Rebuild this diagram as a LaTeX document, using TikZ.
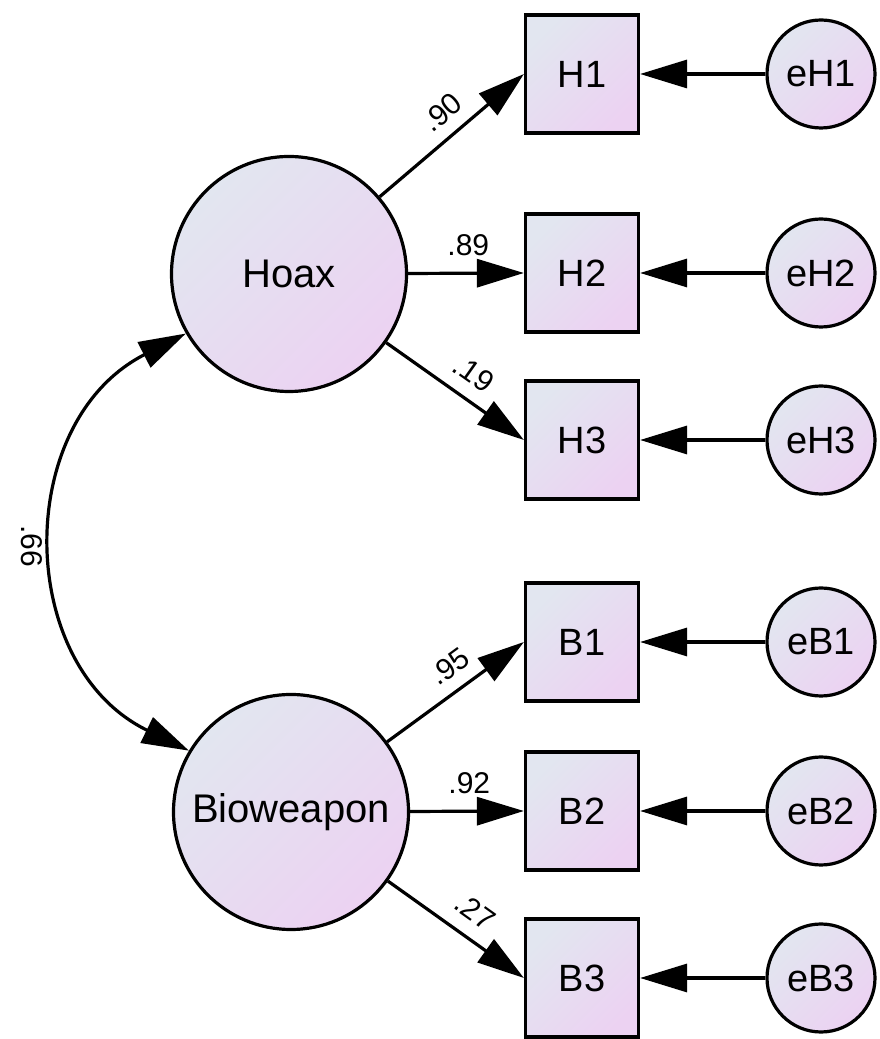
\documentclass[tikz,border=0pt]{standalone}
\usepackage{fontspec}
\setmainfont{Liberation Sans}
\usetikzlibrary{arrows.meta}
\definecolor{shadeA}{RGB}{226,230,240}
\definecolor{shadeB}{RGB}{236,210,242}
\begin{document}
\begin{tikzpicture}[x=1pt,y=1pt,
  base/.style={draw=black, line width=3.2pt, top color=shadeA, bottom color=shadeB, shading angle=45, inner sep=0pt},
  latent/.style={base, circle, minimum size=235pt, font=\fontsize{40}{42}\selectfont},
  observed/.style={base, rectangle, minimum width=113pt, minimum height=118pt, font=\fontsize{38}{40}\selectfont},
  errvar/.style={base, circle, minimum size=108pt, font=\fontsize{38}{40}\selectfont},
  regarrow/.style={line width=3.2pt, -{Triangle[length=47pt,width=28pt]}},
  covarrow/.style={line width=3.2pt, {Triangle[length=47pt,width=28pt]}-{Triangle[length=47pt,width=28pt]}},
  coef/.style={inner sep=0pt, font=\fontsize{30}{32}\selectfont}
]
\useasboundingbox (0,0) rectangle (880,1039);

% latent variables
\node[latent] (hoax) at (289,765) {Hoax};
\node[latent] (bio) at (291,227) {Bioweapon};

% observed indicators
\node[observed] (H1) at (582,965) {H1};
\node[observed] (H2) at (582,766) {H2};
\node[observed] (H3) at (582,599) {H3};
\node[observed] (B1) at (582,397) {B1};
\node[observed] (B2) at (582,228) {B2};
\node[observed] (B3) at (582,61) {B3};

% error terms
\node[errvar] (eH1) at (821,965) {eH1};
\node[errvar] (eH2) at (821,766) {eH2};
\node[errvar] (eH3) at (821,599) {eH3};
\node[errvar] (eB1) at (821,397) {eB1};
\node[errvar] (eB2) at (821,228) {eB2};
\node[errvar] (eB3) at (821,61) {eB3};

% loadings
\draw[regarrow] (hoax) -- node[coef, sloped, pos=0.54, above=12pt] {.90} (H1.west);
\draw[regarrow] (hoax) -- node[coef, pos=0.52, above=16pt] {.89} (H2.west);
\draw[regarrow] (hoax) -- node[coef, sloped, pos=0.53, above=13pt] {.19} (H3.west);
\draw[regarrow] (bio) -- node[coef, sloped, pos=0.56, above=12pt] {.95} (B1.west);
\draw[regarrow] (bio) -- node[coef, pos=0.52, above=16pt] {.92} (B2.west);
\draw[regarrow] (bio) -- node[coef, sloped, pos=0.53, above=14pt] {.27} (B3.west);

% error paths
\foreach \e/\o in {eH1/H1, eH2/H2, eH3/H3, eB1/B1, eB2/B2, eB3/B3}
  \draw[regarrow] (\e) -- (\o);

% covariance
\draw[covarrow] (hoax.210) .. controls +(207:194pt) and +(154:194pt) .. (bio.149.5);
\node[coef, rotate=-90] (cov) at (32,493) {.66};
\end{tikzpicture}
\end{document}
